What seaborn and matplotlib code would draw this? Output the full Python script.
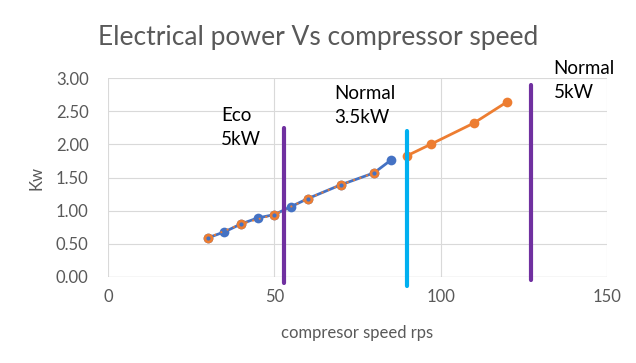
import matplotlib
matplotlib.use('Agg')
import matplotlib.pyplot as plt
import seaborn as sns
import pandas as pd

# data
blue_speed = [30, 35, 40, 45, 50, 55, 60, 70, 80, 85]
blue_kw = [0.59, 0.68, 0.80, 0.89, 0.94, 1.06, 1.18, 1.39, 1.57, 1.76]
orange_low_speed = [30, 40, 50, 60, 70, 80]
orange_low_kw = [0.59, 0.80, 0.94, 1.18, 1.39, 1.57]
orange_high_speed = [90, 97, 110, 120]
orange_high_kw = [1.83, 2.00, 2.32, 2.64]

# vertical markers: (speed, top, label)
mode_speed = [53, 89.8, 127.3]
mode_top = [2.25, 2.20, 2.90]
mode_bottom = [-0.09, -0.13, -0.05]
mode_colors = ['#7030A0', '#00B0F0', '#7030A0']
mode_labels = ['Eco\n5kW', 'Normal\n3.5kW', 'Normal\n5kW']
label_pos = [(34, 2.57), (68, 2.9), (134, 3.27)]

sns.set_style('white')
plt.rcParams['font.family'] = ['Lato', 'DejaVu Sans']

fig = plt.figure(figsize=(6.36, 3.63), dpi=100)
ax = fig.add_axes([0.17, 0.237, 0.784, 0.548])

grid_c = '#D9D9D9'
for v in [0, 50, 100, 150]:
    ax.axvline(v, color=grid_c, lw=0.8, zorder=0)
for v in [0.5, 1.0, 1.5, 2.0, 2.5, 3.0]:
    ax.axhline(v, color=grid_c, lw=0.8, zorder=0)
ax.axhline(0, color='#BFBFBF', lw=0.9, zorder=0)

df_blue = pd.DataFrame({'speed': blue_speed, 'kw': blue_kw})
sns.lineplot(data=df_blue, x='speed', y='kw', ax=ax, color='#4472C4', lw=2,
             marker='o', markersize=7, markeredgewidth=0, zorder=3)

df_ol = pd.DataFrame({'speed': orange_low_speed, 'kw': orange_low_kw})
sns.lineplot(data=df_ol, x='speed', y='kw', ax=ax, color='#ED7D31', lw=1.4,
             linestyle=(0, (1, 2.5)), marker='o', markersize=7, markeredgewidth=0, zorder=4)
ax.scatter(orange_low_speed, orange_low_kw, s=4, color='#4472C4', zorder=5)

df_oh = pd.DataFrame({'speed': orange_high_speed, 'kw': orange_high_kw})
sns.lineplot(data=df_oh, x='speed', y='kw', ax=ax, color='#ED7D31', lw=2,
             marker='o', markersize=7, markeredgewidth=0, zorder=4)

for s, b, t, c in zip(mode_speed, mode_bottom, mode_top, mode_colors):
    ax.plot([s, s], [b, t], color=c, lw=3, clip_on=False, zorder=6)

for (lx, ly), lab in zip(label_pos, mode_labels):
    ax.text(lx, ly, lab, fontsize=13.5, color='black', va='top', ha='left',
            linespacing=1.5, clip_on=False)

ax.set_xlim(0, 150)
ax.set_ylim(0, 3)
ax.set_xticks([0, 50, 100, 150])
ax.set_yticks([0, 0.5, 1.0, 1.5, 2.0, 2.5, 3.0])
ax.set_yticklabels([f'{v:.2f}' for v in [0, 0.5, 1.0, 1.5, 2.0, 2.5, 3.0]])
ax.tick_params(axis='both', length=0, labelsize=12, colors='#595959')
ax.tick_params(axis='y', pad=14)
ax.tick_params(axis='x', pad=9)
for sp in ax.spines.values():
    sp.set_visible(False)

ax.set_xlabel('compresor speed rps', fontsize=12, color='#595959', labelpad=14)
ax.set_ylabel('Kw', fontsize=12, color='#595959', labelpad=8)
fig.text(0.5, 0.875, 'Electrical power Vs compressor speed', ha='center',
         fontsize=19, color='#595959')

fig.savefig('out.png', dpi=100)
